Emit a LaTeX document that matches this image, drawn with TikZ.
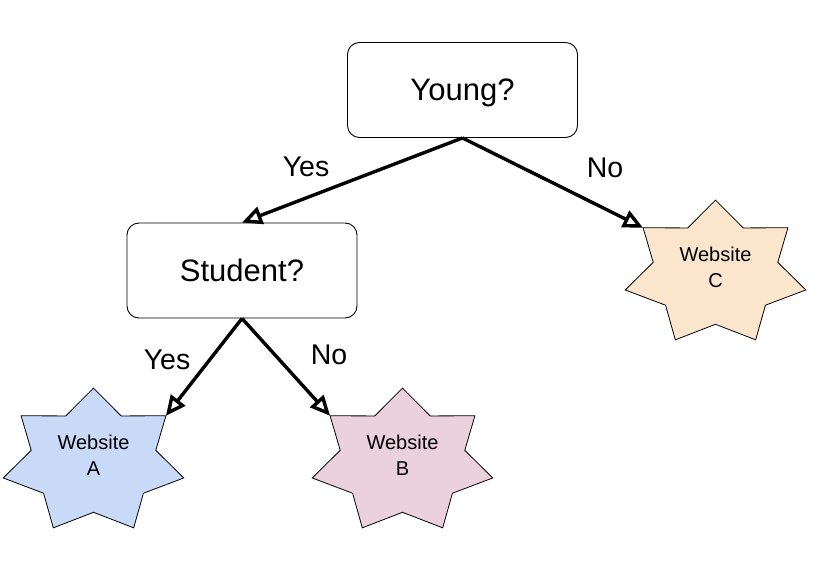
\documentclass[tikz,border=0pt]{standalone}
\usepackage{fontspec}
\setmainfont{Liberation Sans}
\usetikzlibrary{arrows.meta,shapes.geometric}

\definecolor{siteblue}{HTML}{C9DAF8}
\definecolor{sitepink}{HTML}{EAD1DC}
\definecolor{siteorange}{HTML}{FCE5CD}

\tikzset{
  question/.style={draw, line width=0.9pt, rounded corners=12pt, minimum width=230pt, minimum height=95pt,
    text depth=0pt, font=\fontsize{31}{36}\selectfont},
  answer/.style={anchor=base, font=\fontsize{28.5}{33}\selectfont},
  branch/.style={line width=3.4pt, -{Triangle[open, length=20pt, width=18pt]}},
  webstar/.style={draw, line width=0.8pt, star, star points=7, star point ratio=1.45,
    minimum size=147pt, inner sep=0pt, outer sep=0pt, xscale=1.26, transform shape},
  sitelabel/.style={align=center, font=\fontsize{20}{26}\selectfont}
}

\begin{document}
\begin{tikzpicture}[x=1pt, y=-1pt]
\useasboundingbox[fill=white] (0,0) rectangle (824,564);

\node[question] (young) at (462.5,90) {Young?};
\node[question] (student) at (242,270.5) {Student?};

\begin{scope}[shift={(93.5,461.6)}]
\node[webstar, fill=siteblue] (siteA) {};
\end{scope}
\begin{scope}[shift={(402.5,461.6)}]
\node[webstar, fill=sitepink] (siteB) {};
\end{scope}
\begin{scope}[shift={(715.5,273.6)}]
\node[webstar, fill=siteorange] (siteC) {};
\end{scope}

\node[sitelabel] (textA) at (93.5,455.5) {Website\\A};
\node[sitelabel] (textB) at (402.5,455.5) {Website\\B};
\node[sitelabel] (textC) at (715.5,267) {Website\\C};

\draw[branch] (young.south) -- (student.north);
\draw[branch] (young.south) -- (siteC.outer point 2);
\draw[branch] (student.south) -- (siteA.outer point 7);
\draw[branch] (student.south) -- (siteB.outer point 2);

\node[answer] (yesYoung) at (306,177) {Yes};
\node[answer] (noYoung) at (605,178) {No};
\node[answer] (yesStudent) at (167,369) {Yes};
\node[answer] (noStudent) at (329,364) {No};
\end{tikzpicture}
\end{document}
